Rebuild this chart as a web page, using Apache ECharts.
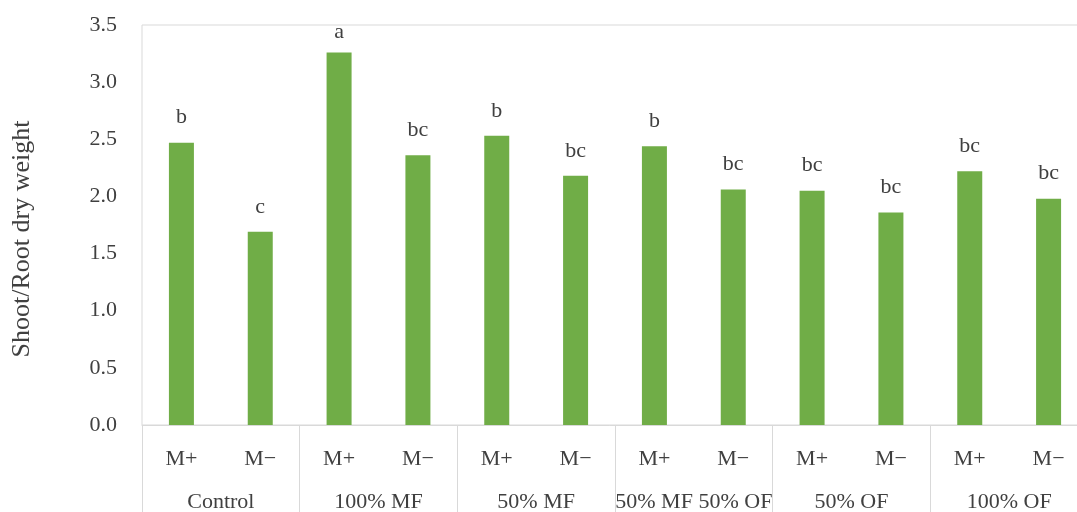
<!DOCTYPE html>
<html>
<head>
<meta charset="utf-8">
<script src="https://cdn.jsdelivr.net/npm/echarts@6/dist/echarts.min.js"></script>
<style>
  html, body { margin: 0; padding: 0; background: #ffffff; }
  #chart { width: 1077px; height: 512px; }
</style>
</head>
<body>
<div id="chart"></div>
<script>
// Treatment groups and mycorrhizal status within each group
const groups = ['Control', '100% MF', '50% MF', '50% MF 50% OF', '50% OF', '100% OF'];
const status = ['M+', 'M\u2212'];
// Shoot/root dry weight ratio, in order M+, M− for each group
const ratioValues = [2.47, 1.69, 3.26, 2.36, 2.53, 2.18, 2.44, 2.06, 2.05, 1.86, 2.22, 1.98];
// Significance letters shown above each bar
const letters = ['b', 'c', 'a', 'bc', 'b', 'bc', 'b', 'bc', 'bc', 'bc', 'bc', 'bc'];
// Y-axis range
const yMin = 0, yMax = 3.5, yStep = 0.5;

const FONT = '"Liberation Serif", "Times New Roman", serif';
const TEXT = '#404040';
const GRID_LINE = '#d9d9d9';
const BAR = '#70ad47';

const plotTop = 25, plotHeight = 400;
const pxPerUnit = plotHeight / (yMax - yMin);

const subCategories = [];
groups.forEach(() => status.forEach(s => subCategories.push(s)));

// Keep letters inside the plot area when a bar is close to the top
const barData = ratioValues.map((v, i) => {
  const room = (yMax - v) * pxPerUnit;
  return {
    value: v,
    label: { distance: Math.min(14, room - 18), formatter: letters[i] }
  };
});

const chart = echarts.init(document.getElementById('chart'), null, { renderer: 'canvas' });
chart.setOption({
  animation: false,
  backgroundColor: '#ffffff',
  textStyle: { fontFamily: FONT },
  grid: {
    left: 142, top: plotTop, width: 946, height: plotHeight,
    outerBoundsMode: 'none',
    containLabel: false,
    show: true, borderColor: GRID_LINE, borderWidth: 1, backgroundColor: 'transparent'
  },
  graphic: [{
    type: 'text',
    x: 22, y: 239,
    rotation: Math.PI / 2,
    style: {
      text: 'Shoot/Root dry weight',
      font: '26px ' + FONT,
      fill: TEXT,
      textAlign: 'center',
      textVerticalAlign: 'middle'
    }
  }],
  xAxis: [{
    type: 'category',
    data: subCategories,
    position: 'bottom',
    axisLine: { show: true, lineStyle: { color: GRID_LINE, width: 1 } },
    axisTick: { show: false },
    axisLabel: { interval: 0, margin: 23, fontSize: 22, fontFamily: FONT, color: TEXT }
  }, {
    type: 'category',
    data: groups,
    position: 'bottom',
    axisLine: { show: false },
    axisTick: { show: true, length: 95, lineStyle: { color: GRID_LINE, width: 1 } },
    axisLabel: { interval: 0, margin: 66, fontSize: 22, fontFamily: FONT, color: TEXT }
  }],
  yAxis: {
    type: 'value',
    min: yMin, max: yMax, interval: yStep,
    axisLine: { show: false },
    axisTick: { show: false },
    splitLine: { show: false },
    axisLabel: {
      margin: 25, fontSize: 22, fontFamily: FONT, color: TEXT,
      padding: [4, 0, 0, 0],
      formatter: v => v.toFixed(1)
    }
  },
  series: [{
    type: 'bar',
    xAxisIndex: 0,
    data: barData,
    barWidth: 25,
    itemStyle: { color: BAR },
    label: {
      show: true, position: 'top',
      fontSize: 22, fontFamily: FONT, color: TEXT
    }
  }]
});
</script>
</body>
</html>
